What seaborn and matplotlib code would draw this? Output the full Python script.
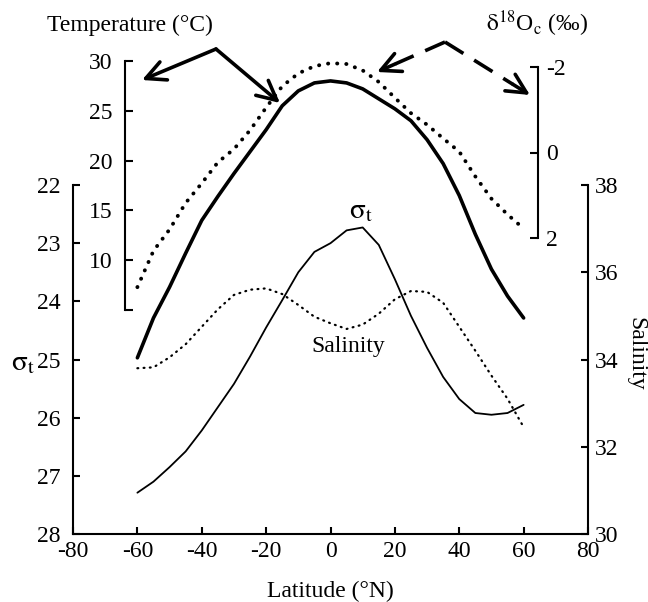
import numpy as np
import pandas as pd
import matplotlib
matplotlib.use("Agg")
import matplotlib.pyplot as plt
from matplotlib.lines import Line2D
import seaborn as sns

# ---------------- data ----------------
latitude = [-60, -55, -50, -45, -40, -35, -30, -25, -20, -15, -10, -5, 0,
            5, 10, 15, 20, 25, 30, 35, 40, 45, 50, 55, 60]
temperature = [0.2, 4.2, 7.3, 10.7, 14.0, 16.4, 18.7, 20.9, 23.1, 25.5, 27.0, 27.8, 28.0,
               27.8, 27.2, 26.2, 25.2, 24.0, 22.1, 19.7, 16.5, 12.6, 9.1, 6.4, 4.2]
delta18O = [3.15, 2.3, 1.8, 1.18, 0.72, 0.23, -0.08, -0.52, -1.05, -1.55, -1.85, -2.02, -2.09,
            -2.07, -1.92, -1.65, -1.28, -0.92, -0.65, -0.33, -0.02, 0.56, 1.08, 1.45, 1.78]
sigma_t = [27.29, 27.1, 26.85, 26.58, 26.22, 25.82, 25.42, 24.95, 24.45, 23.98, 23.5, 23.15, 23.0,
           22.78, 22.73, 23.03, 23.62, 24.25, 24.8, 25.3, 25.68, 25.92, 25.95, 25.92, 25.78]
salinity = [33.8, 33.82, 34.05, 34.35, 34.75, 35.15, 35.48, 35.6, 35.63, 35.5, 35.25, 34.98, 34.83,
            34.7, 34.8, 35.05, 35.38, 35.57, 35.55, 35.3, 34.75, 34.2, 33.63, 33.1, 32.45]

x_ticks = [-80, -60, -40, -20, 0, 20, 40, 60, 80]
sigma_ticks = [22, 23, 24, 25, 26, 27, 28]
sal_ticks = [30, 32, 34, 36, 38]
temp_ticks = [5, 10, 15, 20, 25, 30]
temp_labels = ["", "10", "15", "20", "25", "30"]
d18_ticks = [-2, 0, 2]

df = pd.DataFrame({"lat": latitude, "T": temperature, "d18": delta18O,
                   "sig": sigma_t, "sal": salinity})

# ---------------- style ----------------
sns.set_style("ticks")
plt.rcParams["font.family"] = ["Liberation Serif", "DejaVu Serif"]
plt.rcParams["mathtext.fontset"] = "stix"
plt.rcParams["axes.unicode_minus"] = False
plt.rcParams["text.color"] = "black"
plt.rcParams["axes.labelcolor"] = "black"
FS = 17
LW_AX = 1.5

W, H = 648, 602
fig = plt.figure(figsize=(W / 100, H / 100), dpi=100)


def box(x0, y0, x1, y1):
    return [x0 / W, 1 - y1 / H, (x1 - x0) / W, (y1 - y0) / H]


SIG = r"$\mathrm{\sigma}_{\mathrm{t}}$"

# ---------------- main axes: sigma_t ----------------
ax = fig.add_axes(box(73, 185, 588, 534))
sns.lineplot(data=df, x="lat", y="sig", ax=ax, color="black", linewidth=1.3)
ax.set_xlim(-80, 80)
ax.set_ylim(28, 22)
ax.set_xticks(x_ticks)
ax.set_xticklabels([str(v) for v in x_ticks])
ax.set_yticks(sigma_ticks)
ax.set_yticklabels([str(v) for v in sigma_ticks])
for s in ["top", "right"]:
    ax.spines[s].set_visible(False)
for s in ["left", "bottom"]:
    ax.spines[s].set_linewidth(LW_AX)
    ax.spines[s].set_color("black")
ax.tick_params(axis="both", direction="in", length=5, width=LW_AX,
               labelsize=FS, colors="black")
ax.tick_params(axis="y", pad=9)
ax.tick_params(axis="x", pad=5)
ax.set_xlabel("Latitude (°N)", fontsize=FS, color="black")
ax.xaxis.set_label_coords(0.5, -0.135)
ax.set_ylabel(SIG, fontsize=FS + 4, rotation=0, ha="center", va="center", color="black")
ax.yaxis.set_label_coords(-0.097, 0.49)
ax.text(9.5, 22.45, SIG, fontsize=FS + 4, ha="center", va="center", color="black")
ax.text(5.5, 24.78, "Salinity", fontsize=FS, ha="center", va="center", color="black")

# ---------------- salinity (right) ----------------
ax2 = ax.twinx()
sns.lineplot(data=df, x="lat", y="sal", ax=ax2, color="black", linewidth=1.6,
             linestyle=(0, (0.4, 2.4)))
for ln in ax2.lines:
    ln.set_dash_capstyle("round")
ax2.set_ylim(30, 38)
ax2.set_yticks(sal_ticks)
ax2.set_yticklabels([str(v) for v in sal_ticks])
for s in ["top", "left", "bottom"]:
    ax2.spines[s].set_visible(False)
ax2.spines["right"].set_linewidth(LW_AX)
ax2.spines["right"].set_color("black")
ax2.tick_params(axis="y", direction="in", length=5, width=LW_AX,
                labelsize=FS, colors="black", pad=5)
ax2.set_xlabel("")
ax2.set_ylabel("Salinity", fontsize=FS, rotation=270, va="center", ha="center",
               color="black")
ax2.yaxis.set_label_coords(1.093, 0.516)

# ---------------- temperature axis ----------------
axT = fig.add_axes(box(73, 61, 588, 310))
axT.patch.set_visible(False)
sns.lineplot(data=df, x="lat", y="T", ax=axT, color="black", linewidth=2.6)
for ln in axT.lines:
    ln.set_clip_on(False)
    ln.set_solid_capstyle("round")
axT.set_xlim(-80, 80)
axT.set_ylim(5, 30)
axT.xaxis.set_visible(False)
for s in ["top", "right", "bottom"]:
    axT.spines[s].set_visible(False)
axT.spines["left"].set_position(("axes", (125 - 73) / 515))
axT.spines["left"].set_linewidth(LW_AX)
axT.spines["left"].set_color("black")
axT.set_yticks(temp_ticks)
axT.set_yticklabels(temp_labels)
axT.tick_params(axis="y", direction="in", length=6, width=LW_AX,
                labelsize=FS, colors="black", pad=9)
axT.set_ylabel("")

# ---------------- delta18O axis ----------------
axD = fig.add_axes(box(73, 67, 588, 238))
axD.patch.set_visible(False)
sns.lineplot(data=df, x="lat", y="d18", ax=axD, color="black", linewidth=2.8,
             linestyle=(0, (0.05, 2.3)))
for ln in axD.lines:
    ln.set_clip_on(False)
    ln.set_dash_capstyle("round")
axD.set_xlim(-80, 80)
axD.set_ylim(2, -2)
axD.xaxis.set_visible(False)
for s in ["top", "left", "bottom"]:
    axD.spines[s].set_visible(False)
axD.spines["right"].set_position(("axes", (538 - 73) / 515))
axD.spines["right"].set_linewidth(LW_AX)
axD.spines["right"].set_color("black")
axD.yaxis.tick_right()
axD.set_yticks(d18_ticks)
axD.set_yticklabels([str(v) for v in d18_ticks])
axD.tick_params(axis="y", direction="in", length=6, width=LW_AX,
                labelsize=FS, colors="black", pad=6)
axD.set_ylabel("")

# ---------------- titles and arrows ----------------
fig.text(130 / W, 1 - 25 / H, "Temperature (°C)", fontsize=FS, ha="center", va="center")
fig.text(537 / W, 1 - 24 / H, r"$\mathrm{\delta}^{18}$O$_{\mathrm{c}}$ (‰)", fontsize=FS,
         ha="center", va="center")


def fp(x, y):
    return (x, H - y)


solid_props = dict(arrowstyle="->,head_length=0.7,head_width=0.35", lw=2.6,
                   color="black", mutation_scale=20, shrinkA=0, shrinkB=0)
for tip in [(142, 80), (280, 103)]:
    ax.annotate("", xy=fp(*tip), xytext=fp(216, 49), xycoords="figure pixels",
                textcoords="figure pixels", arrowprops=solid_props,
                annotation_clip=False)

vertex = (445, 42)
for tip in [(377, 72), (530, 95)]:
    vx, vy = vertex
    tx, ty = tip
    L = np.hypot(tx - vx, ty - vy)
    ux, uy = (tx - vx) / L, (ty - vy) / L
    bx, by = tx - ux * 20, ty - uy * 20
    fig.add_artist(Line2D([vx / W, bx / W], [1 - vy / H, 1 - by / H],
                          transform=fig.transFigure, color="black", lw=2.6,
                          linestyle=(0, (6, 3.5))))
    ax.annotate("", xy=fp(tx, ty), xytext=fp(bx, by), xycoords="figure pixels",
                textcoords="figure pixels", arrowprops=solid_props,
                annotation_clip=False)

fig.savefig("out.png", dpi=100)
